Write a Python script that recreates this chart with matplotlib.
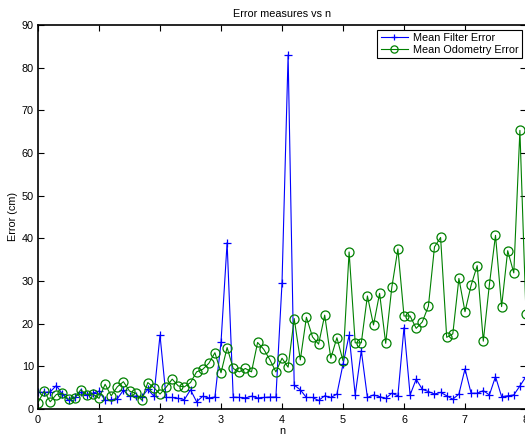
import numpy as np
import matplotlib
matplotlib.use("Agg")
import matplotlib.pyplot as plt

plt.rcParams["font.family"] = ["Liberation Sans", "DejaVu Sans"]

# n from 0 to 8 in steps of 0.1
n = np.round(np.arange(81) * 0.1, 1)

filter_err = [
    3.9, 3.9, 4.0, 5.5, 3.5, 2.0, 2.7, 3.9, 3.3, 3.7,
    4.2, 2.0, 2.2, 2.4, 4.4, 3.0, 3.0, 2.8, 4.6, 3.0,
    17.3, 2.7, 2.7, 2.5, 2.2, 4.5, 1.7, 3.0, 2.6, 2.8,
    15.6, 39.0, 2.8, 2.7, 2.6, 3.0, 2.6, 2.7, 2.8, 2.8,
    29.5, 83.0, 5.6, 4.5, 2.7, 2.7, 2.0, 3.1, 2.7, 3.5,
    10.5, 17.3, 3.3, 13.7, 2.7, 3.3, 2.9, 2.5, 3.7, 3.1,
    19.1, 3.3, 7.0, 4.6, 4.1, 3.5, 3.9, 3.1, 2.3, 3.5,
    9.4, 3.7, 3.7, 4.3, 3.3, 7.6, 2.9, 3.1, 3.3, 5.4,
    7.6,
]

odometry_err = [
    1.5, 4.2, 1.7, 3.4, 3.7, 2.3, 2.5, 4.5, 3.4, 3.5,
    2.5, 5.8, 3.1, 5.2, 6.4, 4.2, 3.7, 2.1, 6.2, 5.0,
    3.5, 5.1, 7.0, 5.4, 5.2, 6.2, 8.7, 9.3, 10.7, 13.2,
    8.5, 14.4, 9.5, 8.7, 9.5, 8.7, 15.6, 14.0, 11.6, 8.7,
    11.9, 9.8, 21.2, 11.5, 21.5, 16.9, 15.2, 22.0, 11.9, 16.7,
    11.3, 36.8, 15.5, 15.5, 26.5, 19.7, 27.1, 15.4, 28.5, 37.5,
    21.8, 21.8, 18.9, 20.4, 24.1, 38.0, 40.2, 16.8, 17.6, 30.6,
    22.8, 29.0, 33.6, 15.9, 29.2, 40.7, 24.0, 37.1, 31.9, 65.3,
    22.2,
]

x_ticks = [0, 1, 2, 3, 4, 5, 6, 7, 8]
y_ticks = [0, 10, 20, 30, 40, 50, 60, 70, 80, 90]

FS = 7.8

fig = plt.figure(figsize=(5.25, 4.36), dpi=100)
ax = fig.add_axes([0.0724, 0.0619, 0.9295, 0.8808])

ax.plot(n, filter_err, color="blue", marker="+", markersize=6,
        linewidth=0.8, markeredgewidth=0.9, label="Mean Filter Error")
ax.plot(n, odometry_err, color=(0, 0.5, 0), marker="o", markersize=6.5,
        markerfacecolor="none", linewidth=0.8, markeredgewidth=0.9,
        label="Mean Odometry Error")

ax.set_xlim(0, 8)
ax.set_ylim(0, 90)
ax.set_xticks(x_ticks)
ax.set_yticks(y_ticks)
ax.tick_params(direction="in", top=True, right=True, labelsize=FS,
               length=4, width=0.8)
ax.tick_params(axis="x", pad=4.5)
ax.tick_params(axis="y", pad=3)
for s in ax.spines.values():
    s.set_linewidth(1.2)

ax.set_title("Error measures vs n", fontsize=FS, pad=6)
ax.set_xlabel("n", fontsize=FS, labelpad=0.5)
ax.set_ylabel("Error (cm)", fontsize=FS, labelpad=3)

leg = ax.legend(loc="upper right", fontsize=FS, fancybox=False,
                framealpha=1, edgecolor="black", borderpad=0.3,
                handlelength=2.5, handletextpad=0.5, labelspacing=0.15,
                borderaxespad=0, bbox_to_anchor=(0.992, 0.987),
                markerscale=0.8)
leg.get_frame().set_linewidth(0.8)

fig.savefig("out.png", dpi=100)
